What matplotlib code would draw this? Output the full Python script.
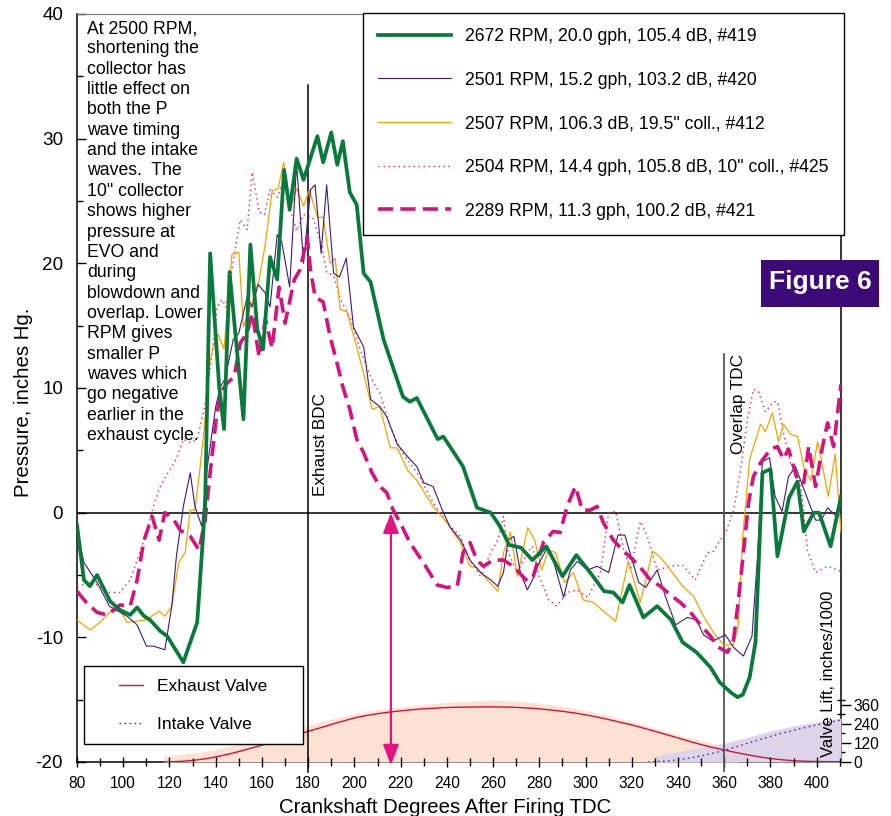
import matplotlib
matplotlib.use("Agg")
import matplotlib.pyplot as plt
from matplotlib.lines import Line2D
from matplotlib.patches import Rectangle
from matplotlib.ticker import MultipleLocator, FixedLocator

plt.rcParams['font.family'] = ['Liberation Sans', 'DejaVu Sans']
plt.rcParams['axes.unicode_minus'] = False

# ---------------- pressure traces (crank degrees, inches Hg) ----------------
green_deg = [80, 83, 85.6, 88.7, 94.3, 98.6, 103, 106, 109, 111.6, 116, 119, 126, 132,
             135.4, 137.6, 141.5, 143.6, 146, 152, 155, 158, 160.5, 163.5, 166.6, 169.6,
             172, 175, 178, 184, 186.5, 190, 192.6, 195, 198, 201, 204, 207, 212.6, 221,
             224, 227, 236, 238.5, 247, 253, 259, 263, 267, 272, 277, 283, 290, 296, 302,
             308, 312, 316, 319, 325, 331, 337, 342, 348, 354, 358, 362.7, 365.7, 368,
             371, 373.5, 376.5, 380, 383, 388, 391.7, 394.4, 398.7, 401, 406, 410.5]
green_p = [-1.0, -5.4, -5.9, -5.0, -7.1, -7.8, -8.2, -7.6, -8.3, -8.6, -9.5, -9.9, -12.0, -8.8,
           0.5, 20.8, 10.1, 6.7, 19.3, 7.5, 21.5, 14.7, 13.1, 20.5, 18.7, 27.5,
           24.3, 28.4, 26.7, 30.2, 28.1, 30.5, 27.9, 29.8, 25.7, 24.7, 19.2, 18.5, 13.9, 9.3,
           8.9, 9.2, 5.9, 6.1, 3.7, 0.4, 0.0, -1.1, -2.6, -2.8, -3.8, -2.7, -5.1, -3.4, -4.8,
           -6.3, -6.4, -7.2, -5.8, -8.4, -7.5, -8.6, -10.4, -11.2, -12.4, -13.6, -14.4, -14.8, -14.6,
           -13.2, -10.4, 3.2, 3.5, -3.5, 1.2, 2.5, -1.5, 0.0, 0.0, -2.7, 1.3]

purple_deg = [80, 83, 88.7, 94, 101.6, 106, 110, 113, 118, 121, 123, 126, 129, 131, 134,
              136, 140, 142, 144, 147.6, 150, 153.6, 155.7, 158.4, 161.5, 163.5, 166.6,
              168.6, 172, 175, 178, 181, 183, 185.6, 188, 191, 193.5, 196.5, 199.6, 204,
              207, 211, 214, 218.5, 223, 227, 230, 234, 238.5, 241.5, 246, 250, 254.5, 259,
              262, 264.5, 266.5, 269, 271.8, 274.8, 277, 280, 283.5, 286, 290.5, 293.4,
              296.5, 300.8, 305, 310, 314, 317, 323, 326, 331, 334.5, 339, 344, 348, 351,
              355, 360.5, 364, 368.3, 372, 374.4, 376.5, 379.6, 382, 385, 387.8, 390.8,
              394, 399.5, 402, 404.7, 409, 410.5]
purple_p = [-1.5, -4.0, -5.6, -7.5, -8.3, -9.0, -10.7, -10.7, -11.0, -7.5, -3.5, 0.5, 3.2, 0.5, -1.1,
            3.2, 8.5, 10.1, 10.7, 13.9, 14.4, 17.3, 16.5, 18.3, 17.6, 16.5, 22.3,
            21.7, 18.1, 28.0, 20.0, 25.9, 26.3, 20.8, 26.3, 19.2, 18.9, 20.4, 14.9, 13.3,
            9.1, 8.5, 7.7, 5.5, 4.5, 3.7, 2.4, 2.1, 0.0, -1.2, -2.2, -3.8, -4.8, -5.4,
            -5.9, -4.8, -2.2, -1.9, -4.8, -6.2, -5.4, -4.0, -2.8, -3.8, -6.8, -4.6,
            -3.9, -4.6, -4.3, -4.8, -1.8, -1.8, -5.6, -6.0, -4.6, -6.7, -9.0, -8.4, -8.6, -9.8,
            -10.3, -9.8, -10.8, -11.5, -9.9, -3.5, 4.1, 4.4, 1.3, 0.1, 2.9, 3.7,
            2.1, -0.6, -0.6, 0.4, -0.4, 1.8]

orange_deg = [80, 85.6, 90, 94, 98.6, 101.6, 106, 110, 115.5, 118, 121, 124, 126.8, 129,
              131, 133, 135, 137.6, 140, 141, 143.6, 147, 150, 152, 155, 158.8, 161.5,
              164.4, 167, 169.4, 172, 175, 178, 180.5, 184, 186.5, 189.5, 191.7, 193.8,
              196.8, 201, 204, 207.6, 211, 215.5, 218.5, 223, 227, 234, 240, 245.8, 250,
              253, 257.5, 262, 264.5, 267.5, 270.5, 275, 278, 281, 284, 287, 291, 294.7,
              299, 303.4, 307.7, 313, 318.5, 323.7, 329, 332, 336.7, 342, 346.7, 351,
              355.3, 359.7, 364, 366, 368, 371, 375.7, 377.8, 380.8, 383.5, 385.6, 388.6,
              391.7, 394.4, 397.4, 400.4, 405, 408, 410.5]
orange_p = [-8.6, -9.4, -8.8, -8.0, -7.8, -8.8, -8.7, -8.6, -7.9, -8.3, -7.5, -4.0, -3.2, 0.2,
            0.2, 3.2, 6.7, 12.3, 14.0, 14.3, 13.1, 20.7, 20.9, 14.9, 16.5, 18.7, 21.6,
            25.8, 26.0, 28.1, 24.2, 26.0, 24.6, 25.9, 23.7, 23.7, 20.0, 20.4, 16.3,
            16.1, 13.3, 11.2, 8.3, 8.5, 5.2, 5.2, 3.4, 2.6, 0.5, -0.8, -2.4, -4.3,
            -4.4, -5.4, -6.3, -3.2, -1.6, -5.1, -1.2, -2.2, -4.6, -3.0, -3.2, -5.6, -4.8,
            -7.0, -7.2, -7.9, -8.7, -3.9, -7.2, -3.1, -3.5, -4.6, -5.9, -6.7, -8.3,
            -9.6, -10.6, -10.6, -9.1, -1.9, 4.3, 7.1, 6.5, 8.0, 5.7, 7.1, 6.3,
            6.1, 3.7, 2.6, 5.7, 1.3, 4.7, -1.6]

red_deg = [80, 87, 94, 98.6, 103, 109, 113, 116, 120, 123, 126, 129, 132, 135, 137.6,
           140.6, 142.8, 144.5, 148.4, 150.6, 153.6, 155.8, 158.8, 161, 163.5, 166.6,
           169.6, 172, 175, 178, 182, 186, 188, 191, 194, 198, 202.5, 207, 211, 215.5,
           220, 224, 228.5, 234, 240, 245.8, 250, 254.5, 259, 262, 264.5, 266.5, 270.5,
           274.8, 277, 280, 284, 287.6, 292, 296.5, 301, 306.4, 310, 313, 316.5, 319.4,
           323.7, 326.7, 331, 336.7, 342, 347.5, 352.7, 355.3, 361, 364, 367, 370, 372.6,
           374.8, 377.8, 381.3, 383, 385.6, 388.6, 393, 396, 399.5, 404.7, 409, 410.5]
red_p = [-5.9, -5.6, -6.4, -6.4, -5.4, -2.2, 0.5, 2.1, 3.4, 4.3, 5.9, 5.6, 5.9, 8.3, 11.5,
         16.5, 17.1, 16.5, 21.1, 23.5, 22.7, 27.3, 24.1, 23.9, 25.9, 25.3,
         26.7, 24.5, 22.6, 23.9, 23.7, 21.3, 19.3, 19.0, 17.1, 15.7, 13.1, 10.9, 9.6, 6.9,
         5.0, 4.0, 2.8, 0.8, -0.8, -1.9, -3.8, -5.1, -3.2, -2.2, -0.3, -3.2, -4.8,
         -3.2, -2.7, -5.1, -7.0, -7.5, -6.4, -6.2, -6.8, -4.8, 0.0, 0.1, -3.0, -4.6,
         -0.7, -1.9, -4.6, -4.3, -4.2, -5.4, -3.2, -3.1, -1.4, 0.2, 3.4, 7.5, 9.9,
         9.7, 8.1, 8.9, 8.9, 6.4, 4.0, 2.4, -3.0, -4.8, -4.3, -4.6, -4.7]

magenta_deg = [80, 84, 88.7, 93, 98.6, 103, 106, 109, 112.5, 115.5, 118, 122, 124.6, 129,
               132.8, 135.4, 137.6, 140, 142, 145, 148, 150.6, 153.6, 155.8, 158.8, 161.5,
               164.4, 167.4, 170, 174, 176.5, 179.6, 181, 183, 186.5, 189.5, 192.5, 195,
               198, 201, 204, 207.6, 211, 214, 216.8, 219.8, 224, 229.8, 235.8, 240, 244.5,
               247, 250, 253, 255.8, 260, 264.5, 268.7, 274.8, 277.4, 281.7, 286, 289, 292,
               295.6, 298.6, 302, 305, 307.7, 312, 316.5, 320.7, 324.6, 328, 332.4, 336.7,
               341, 345.4, 349.7, 354, 357.5, 361.4, 364, 366, 368.3, 370.5, 372.6, 375.7,
               380, 383, 385.6, 387.8, 391.7, 394.4, 396.5, 399.5, 402.5, 404.7, 407.3, 410.5]
magenta_p = [-6.3, -7.2, -8.0, -8.2, -7.4, -7.5, -5.4, -2.2, -0.3, -2.2, 0.0, -0.6, -1.4, -1.9,
             -3.0, -0.6, 3.2, 7.2, 9.6, 10.4, 10.9, 13.6, 14.4, 16.0, 12.5, 15.5,
             13.2, 18.1, 15.2, 18.7, 19.5, 22.1, 19.5, 17.3, 16.9, 14.1, 12.0, 10.1,
             8.3, 5.9, 4.8, 3.2, 2.1, 1.6, 0.2, -0.8, -2.4, -4.0, -5.8, -6.0, -5.9,
             -3.2, -2.4, -3.8, -4.3, -3.8, -3.8, -4.3, -5.5, -5.1, -2.4, -1.5, -1.6, 0.5,
             2.1, 0.2, 0.2, 0.5, -0.8, -2.2, -3.1, -3.8, -4.6, -5.4, -5.9, -6.6,
             -7.2, -8.0, -9.0, -9.9, -10.8, -11.2, -10.2, -7.2, -3.2, 0.8, 2.9, 4.0,
             5.1, 5.3, 4.3, 5.1, 2.6, 2.4, 5.3, 2.1, 5.3, 7.2, 5.3, 10.3]

series_labels = ["2672 RPM, 20.0 gph, 105.4 dB, #419",
                 "2501 RPM, 15.2 gph, 103.2 dB, #420",
                 "2507 RPM, 106.3 dB, 19.5\" coll., #412",
                 "2504 RPM, 14.4 gph, 105.8 dB, 10\" coll., #425",
                 "2289 RPM, 11.3 gph, 100.2 dB, #421"]

# ---------------- valve lift (crank degrees, inches/1000) ----------------
exh_deg = [115, 120, 125, 130, 135, 140, 145, 150, 155, 160, 165, 170, 175, 180, 185, 190,
           195, 200, 205, 210, 215, 220, 225, 230, 235, 240, 245, 250, 255, 260, 265, 270,
           275, 280, 285, 290, 295, 300, 305, 310, 315, 320, 325, 330, 335, 340, 345, 350,
           355, 360, 365, 370, 375, 380, 385, 390, 395, 400, 405, 410.5]
exh_lift = [0, 1, 4, 10, 19, 32, 48, 66, 86, 107, 128, 150, 172, 194, 215, 237,
            258, 278, 293, 305, 315, 323, 330, 336, 340, 344, 346, 347, 348, 348, 347, 345,
            341, 336, 328, 320, 310, 298, 284, 268, 251, 234, 214, 194, 173, 152, 130, 110,
            92, 76, 60, 46, 33, 22, 14, 8, 5, 3, 2, 2]
exh_band_deg = [117.5, 120, 130, 140, 150, 160, 170, 180, 190, 200, 210, 220, 230, 240, 250,
                260, 270, 280, 290, 300, 310, 320, 330, 340, 350, 360, 366]
exh_band = [38, 40, 55, 80, 113, 152, 192, 232, 270, 305, 332, 348, 365, 377, 385,
            390, 385, 372, 352, 326, 293, 256, 215, 172, 135, 100, 85]

int_deg = [327, 330, 335, 340, 345, 350, 355, 360, 365, 370, 375, 380, 385, 390, 395, 400,
           405, 410.5]
int_lift = [0, 2, 6, 14, 25, 38, 55, 74, 95, 118, 140, 162, 182, 200, 218, 234, 250, 265]
int_band_deg = [330, 340, 350, 360, 370, 380, 390, 400, 410.5]
int_band = [38, 65, 92, 120, 155, 195, 228, 253, 278]

note_lines = ["At 2500 RPM,", "shortening the", "collector has", "little effect on",
              "both the P", "wave timing", "and the intake", "waves.  The",
              "10\" collector", "shows higher", "pressure at", "EVO and", "during",
              "blowdown and", "overlap. Lower", "RPM gives", "smaller P",
              "waves which", "go negative", "earlier in the", "exhaust cycle."]

C_GREEN = "#0a7a3c"
C_PURPLE = "#3b1a7c"
C_ORANGE = "#f4a400"
C_RED = "#e3204c"
C_MAGENTA = "#d6137c"

W, H = 891, 816
fig = plt.figure(figsize=(W / 100, H / 100), dpi=100)
ax = fig.add_axes([77 / W, 1 - 762 / H, 764 / W, 748 / H])
ax2 = ax.twinx()
ax.set_zorder(ax2.get_zorder() + 1)
ax.patch.set_visible(False)

XMIN, XMAX = 80, 410.5
ax.set_xlim(XMIN, XMAX)
ax.set_ylim(-20, 40)
ax2.set_ylim(0, 4724)

# valve lift shading and curves
ax2.fill_between(exh_band_deg, 0, exh_band, color="#fde2d4", lw=0, zorder=3)
ax2.fill_between(int_band_deg, 0, int_band, color="#ddd4ea", lw=0, zorder=3.1)
ax2.plot(exh_deg, exh_lift, color="#d41235", lw=1.0, zorder=4)
ax2.plot(int_deg, int_lift, color="#4a2a9c", lw=1.0, ls=(0, (1.2, 2.4)), zorder=4)

# reference lines
ax.axhline(0, color="black", lw=1.1, zorder=2)
ax.plot([180, 180], [34.3, -20.8], color="black", lw=1.1, clip_on=False, zorder=2)
ax.plot([360, 360], [12.7, -20.7], color="#555555", lw=1.3, clip_on=False, zorder=2)

# pressure traces
l_red, = ax.plot(red_deg, red_p, color=C_RED, lw=1.0, ls=(0, (1.0, 2.6)), zorder=5)
l_orange, = ax.plot(orange_deg, orange_p, color=C_ORANGE, lw=0.9, zorder=5)
l_purple, = ax.plot(purple_deg, purple_p, color=C_PURPLE, lw=0.8, zorder=5)
l_magenta, = ax.plot(magenta_deg, magenta_p, color=C_MAGENTA, lw=2.6,
                     ls=(0, (4.2, 2.0)), zorder=6)
l_green, = ax.plot(green_deg, green_p, color=C_GREEN, lw=2.7, zorder=7)

# double arrow marking the early zero crossing
ax.annotate("", xy=(215.8, 0), xytext=(215.8, -20.25),
            arrowprops=dict(arrowstyle="<|-|>,head_length=0.62,head_width=0.24",
                            color="#e3137f", lw=1.6, mutation_scale=20,
                            shrinkA=0, shrinkB=0), zorder=8, annotation_clip=False)

# spines
for s in ["right", "bottom"]:
    ax.spines[s].set_visible(False)
ax.spines["top"].set_color("#777777")
ax.spines["left"].set_linewidth(1.1)
for s in ["left", "top"]:
    ax2.spines[s].set_visible(False)
ax2.spines["right"].set_linewidth(1.1)
ax2.spines["bottom"].set_linewidth(1.1)

# ticks
ax.xaxis.set_major_locator(MultipleLocator(20))
ax.xaxis.set_minor_locator(MultipleLocator(10))
ax.yaxis.set_major_locator(MultipleLocator(10))
ax.yaxis.set_minor_locator(MultipleLocator(5))
ax.tick_params(axis="y", which="major", direction="in", length=6.5, width=1,
               labelsize=13.6, pad=10, right=False)
ax.tick_params(axis="y", which="minor", direction="in", length=4, width=1, right=False)
ax.tick_params(axis="x", which="major", direction="inout", length=7.5, width=1,
               labelsize=11.2, pad=6, top=False)
ax.tick_params(axis="x", which="minor", direction="inout", length=5.5, width=1, top=False)

ax2.yaxis.set_major_locator(FixedLocator([0, 120, 240, 360]))
ax2.yaxis.set_minor_locator(FixedLocator([60, 180, 300, 392]))
ax2.tick_params(axis="y", which="major", direction="out", length=7, width=1,
                labelsize=11.2, pad=2)
ax2.tick_params(axis="y", which="minor", direction="inout", length=6, width=1)

ax.set_xlabel("Crankshaft Degrees After Firing TDC", fontsize=14.7)
ax.xaxis.set_label_coords(0.482, -0.0475)
ax.xaxis.label.set_va("top")
ax.set_ylabel("Pressure, inches Hg.", fontsize=14.7)
ax.yaxis.set_label_coords(-0.058, 0.481)

# inline labels
ax.text(185.2, 5.5, "Exhaust BDC", rotation=90, fontsize=12.3, ha="center", va="center")
ax.text(366.2, 8.7, "Overlap TDC", rotation=90, fontsize=12.3, ha="center", va="center")
ax2.text(404.9, 30, "Valve Lift, inches/1000", rotation=90, fontsize=12,
         ha="center", va="bottom", zorder=10)

fig.text(87 / W, 1 - 20 / H, "\n".join(note_lines), fontsize=12.7, ha="left", va="top",
         linespacing=1.258)

# legend for the pressure traces
leg = ax.legend([l_green, l_purple, l_orange, l_red, l_magenta], series_labels,
                loc="upper left", bbox_to_anchor=(363 / W, 1 - 13 / H),
                bbox_transform=fig.transFigure, borderaxespad=0, fontsize=12.7,
                handlelength=4.15, handletextpad=0.8, borderpad=0.85, labelspacing=1.51,
                frameon=True, fancybox=False, framealpha=1, edgecolor="black")
leg.get_frame().set_linewidth(1.0)
leg.set_zorder(20)

# legend for the valve curves
vh1 = Line2D([], [], color="#d41235", lw=1.0)
vh2 = Line2D([], [], color="#4a2a9c", lw=1.0, ls=(0, (1.2, 2.4)))
box = Rectangle((84 / W, 1 - 744 / H), 219 / W, 78 / H, transform=fig.transFigure,
                facecolor="white", edgecolor="black", lw=1.0, zorder=18)
ax.add_artist(box)
vleg = ax.legend([vh1, vh2], ["Exhaust Valve", "Intake Valve"], loc="upper left",
                 bbox_to_anchor=(119 / W, 1 - 679 / H), bbox_transform=fig.transFigure,
                 borderaxespad=0, borderpad=0, fontsize=12.5, handlelength=1.38,
                 handletextpad=0.8, labelspacing=1.3, frameon=False)
vleg.set_zorder(21)
ax.add_artist(leg)

# figure tag
fig.patches.append(Rectangle((761 / W, 1 - 307 / H), 118 / W, 47 / H,
                             transform=fig.transFigure, facecolor="#3c0b78",
                             edgecolor="none", zorder=30))
fig.text(820 / W, 1 - 289.5 / H, "Figure 6", color="white", fontsize=19,
         fontweight="bold", ha="center", va="baseline", zorder=31)

fig.savefig("out.png", dpi=100)
